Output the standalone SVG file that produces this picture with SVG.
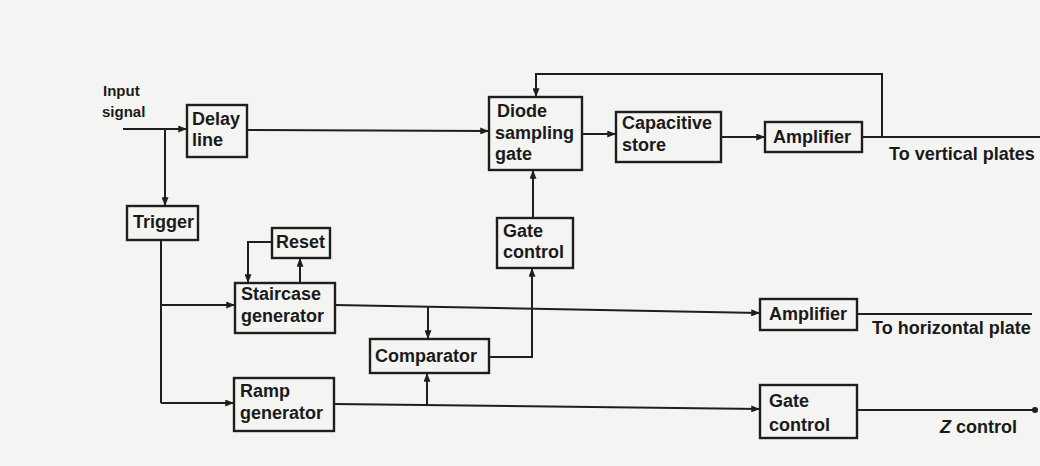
<svg xmlns="http://www.w3.org/2000/svg" width="1040" height="466" viewBox="0 0 1040 466">
<defs>
<style>
.box{fill:none;stroke:#1e1e1e;stroke-width:2.4}
.ln{fill:none;stroke:#1e1e1e;stroke-width:2}
.t{font-family:"Liberation Sans",Arial,sans-serif;font-weight:bold;font-size:18px;fill:#1a1a1a}
.s{font-size:15px}
</style>
<marker id="ah" viewBox="0 0 10 8" refX="10" refY="4" markerWidth="10" markerHeight="7" markerUnits="userSpaceOnUse" orient="auto"><path d="M0,0 L10,4 L0,8 z" fill="#1e1e1e"/></marker>
</defs>
<rect width="1040" height="466" fill="#f4f4f2"/>

<g id="connectors" class="ln">
<path d="M123,129 H187" marker-end="url(#ah)"/>
<path d="M165,129 V206" marker-end="url(#ah)"/>
<path d="M247,130 L489,131" marker-end="url(#ah)"/>
<path d="M533,218 V170" marker-end="url(#ah)"/>
<path d="M882,137 V74 H536 V97" marker-end="url(#ah)"/>
<path d="M582,134 H616" marker-end="url(#ah)"/>
<path d="M721,137 H765" marker-end="url(#ah)"/>
<path d="M862,137 H1040"/>
<path d="M161,240 V403"/>
<path d="M161,305 H235" marker-end="url(#ah)"/>
<path d="M161,403 H234" marker-end="url(#ah)"/>
<path d="M272,242 H248 V283" marker-end="url(#ah)"/>
<path d="M300,283 V258" marker-end="url(#ah)"/>
<path d="M335,305 L760,313" marker-end="url(#ah)"/>
<path d="M428,306.5 V339" marker-end="url(#ah)"/>
<path d="M334,404 L760,409" marker-end="url(#ah)"/>
<path d="M427,405 V373" marker-end="url(#ah)"/>
<path d="M489,357 H532 V268" marker-end="url(#ah)"/>
<path d="M857,314 L1032,314"/>
<path d="M857,410 L1034,410"/>
<circle cx="1035" cy="410" r="3" fill="#1e1e1e" stroke="none"/>
</g>

<g id="input" class="t s">
<text x="103" y="96">Input</text>
<text x="102" y="117">signal</text>
</g>
<g id="delay-line">
<rect class="box" x="187" y="105" width="60" height="52"/>
<text class="t" x="192" y="125">Delay</text>
<text class="t" x="192" y="146">line</text>
</g>
<g id="trigger">
<rect class="box" x="127" y="206" width="71" height="34"/>
<text class="t" x="133" y="228">Trigger</text>
</g>
<g id="diode-sampling-gate">
<rect class="box" x="489" y="97" width="93" height="73"/>
<text class="t" x="497" y="117">Diode</text>
<text class="t" x="495" y="139">sampling</text>
<text class="t" x="495" y="160">gate</text>
</g>
<g id="capacitive-store">
<rect class="box" x="616" y="112" width="105" height="50"/>
<text class="t" x="622" y="129">Capacitive</text>
<text class="t" x="622" y="151">store</text>
</g>
<g id="amplifier-vertical">
<rect class="box" x="765" y="122" width="97" height="30"/>
<text class="t" x="773" y="143">Amplifier</text>
</g>
<g id="gate-control-upper">
<rect class="box" x="497" y="218" width="76" height="50"/>
<text class="t" x="503" y="237">Gate</text>
<text class="t" x="503" y="258">control</text>
</g>
<g id="reset">
<rect class="box" x="272" y="228" width="58" height="30"/>
<text class="t" x="276" y="248">Reset</text>
</g>
<g id="staircase-generator">
<rect class="box" x="235" y="283" width="100" height="50"/>
<text class="t" x="241" y="300">Staircase</text>
<text class="t" x="241" y="322">generator</text>
</g>
<g id="comparator">
<rect class="box" x="370" y="339" width="119" height="34"/>
<text class="t" x="375" y="362">Comparator</text>
</g>
<g id="ramp-generator">
<rect class="box" x="234" y="378" width="100" height="53"/>
<text class="t" x="240" y="397">Ramp</text>
<text class="t" x="240" y="419">generator</text>
</g>
<g id="amplifier-horizontal">
<rect class="box" x="760" y="299" width="97" height="31"/>
<text class="t" x="769" y="320">Amplifier</text>
</g>
<g id="gate-control-lower">
<rect class="box" x="760" y="385" width="97" height="53"/>
<text class="t" x="769" y="407">Gate</text>
<text class="t" x="769" y="431">control</text>
</g>
<g id="output-labels" class="t">
<text x="889" y="160">To vertical plates</text>
<text x="872" y="334">To horizontal plate</text>
<text x="940" y="433"><tspan font-style="italic">Z</tspan> control</text>
</g>
</svg>
